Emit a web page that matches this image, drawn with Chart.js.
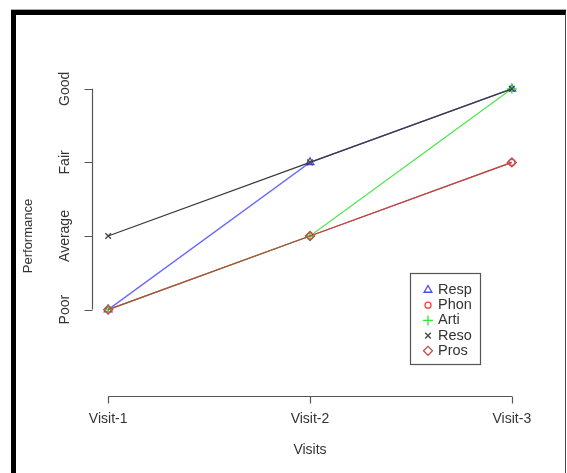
<!DOCTYPE html>
<html>
<head>
<meta charset="utf-8">
<script src="https://cdn.jsdelivr.net/npm/chart.js@4/dist/chart.umd.min.js"></script>
<style>
  html, body { margin: 0; padding: 0; background: #fff; }
  #wrap { position: relative; width: 567px; height: 473px; overflow: hidden; }
  #frame {
    position: absolute; left: 11px; top: 10px; width: 549px; height: 470px;
    border-left: 5px solid #000; border-top: 5px solid #000; border-right: 1px solid #444;
    box-shadow: 0 -1px 0 #aaa; pointer-events: none;
  }
  canvas { position: absolute; left: 0; top: 0; }
</style>
</head>
<body>
<div id="wrap">
  <canvas id="perfChart" width="567" height="473"></canvas>
  <div id="frame"></div>
</div>
<script>
// ---------- Data ----------
const visits = ["Visit-1", "Visit-2", "Visit-3"];
const levels = ["Poor", "Average", "Fair", "Good"];

const resp = [1, 3, 4];
const phon = [1, 2, 3];
const arti = [1, 2, 4];
const reso = [2, 3, 4];
const pros = [1, 2, 3];

const seriesNames = ["Resp", "Phon", "Arti", "Reso", "Pros"];
const seriesValues = [resp, phon, arti, reso, pros];

// ---------- Styles ----------
const colors = ["#4a4aff", "#ff3b3b", "#33e633", "#444444", "#c05050"];
const lineColors = ["#6a6aff", "#ff5a5a", "#4de84d", "#3a3a3a", "#b24848"];
const pointStyles = ["triangle", "circle", "cross", "crossRot", "rectRot"];
const pointRadii = [4.5, 3, 5, 4, 4.5];

const FONT = "Liberation Sans, Arial, sans-serif";

const datasets = seriesValues.map((vals, i) => ({
  label: seriesNames[i],
  data: vals.map((v, j) => ({ x: j + 1, y: v })),
  borderColor: lineColors[i],
  borderWidth: 1.3,
  pointBorderColor: colors[i],
  pointBackgroundColor: "rgba(0,0,0,0)",
  pointStyle: pointStyles[i],
  pointRadius: pointRadii[i],
  pointBorderWidth: 1.3,
  tension: 0,
  fill: false,
  order: seriesNames.length - i,
}));

// ---------- R-style axes + legend ----------
const rAxes = {
  id: "rAxes",
  afterDraw(chart) {
    const { ctx, chartArea, scales } = chart;
    const xs = scales.x, ys = scales.y;
    ctx.save();
    ctx.strokeStyle = "#555";
    ctx.lineWidth = 1.2;
    ctx.fillStyle = "#333";

    // x axis
    const ax = chartArea.bottom + 1.5;
    ctx.beginPath();
    ctx.moveTo(xs.getPixelForValue(1), ax);
    ctx.lineTo(xs.getPixelForValue(visits.length), ax);
    visits.forEach((_, i) => {
      const px = Math.round(xs.getPixelForValue(i + 1)) + 0.5;
      ctx.moveTo(px, ax);
      ctx.lineTo(px, ax + 7);
    });
    ctx.stroke();
    ctx.font = "14px " + FONT;
    ctx.textAlign = "center";
    ctx.textBaseline = "middle";
    visits.forEach((lab, i) => ctx.fillText(lab, xs.getPixelForValue(i + 1), 419));
    ctx.fillText("Visits", (xs.getPixelForValue(1) + xs.getPixelForValue(3)) / 2, 450);

    // y axis
    const ay = chartArea.left + 0.5;
    ctx.beginPath();
    ctx.moveTo(ay, ys.getPixelForValue(1));
    ctx.lineTo(ay, ys.getPixelForValue(levels.length));
    levels.forEach((_, i) => {
      const py = Math.round(ys.getPixelForValue(i + 1)) + 0.5;
      ctx.moveTo(ay, py);
      ctx.lineTo(ay - 8, py);
    });
    ctx.stroke();
    ctx.font = "14px " + FONT;
    levels.forEach((lab, i) => {
      ctx.save();
      ctx.translate(65, ys.getPixelForValue(i + 1));
      ctx.rotate(-Math.PI / 2);
      ctx.fillText(lab, 0, 0);
      ctx.restore();
    });
    ctx.save();
    ctx.font = "13px " + FONT;
    ctx.translate(28, (chartArea.top + chartArea.bottom) / 2);
    ctx.rotate(-Math.PI / 2);
    ctx.fillText("Performance", 0, 0);
    ctx.restore();

    // legend box
    const lx = 410.5, ly = 273.5, lw = 70, lh = 91;
    ctx.strokeStyle = "#555";
    ctx.lineWidth = 1.2;
    ctx.strokeRect(lx, ly, lw, lh);
    ctx.font = "14.5px " + FONT;
    ctx.textAlign = "left";
    chart.data.datasets.forEach((ds, i) => {
      const y = 290 + i * 15.2;
      ctx.fillStyle = "#333";
      ctx.fillText(ds.label, 438, y);
      ctx.strokeStyle = ds.pointBorderColor;
      ctx.fillStyle = "rgba(0,0,0,0)";
      ctx.lineWidth = 1.3;
      Chart.helpers.drawPoint(ctx, {
        pointStyle: ds.pointStyle,
        radius: ds.pointRadius,
        rotation: 0,
        borderWidth: 1.3,
      }, 428, y);
    });
    ctx.restore();
  },
};

// ---------- Chart ----------
new Chart(document.getElementById("perfChart"), {
  type: "line",
  data: { datasets },
  options: {
    responsive: false,
    animation: false,
    layout: { padding: { left: 92, right: 39, top: 77, bottom: 78 } },
    plugins: { legend: { display: false }, tooltip: { enabled: false } },
    scales: {
      x: { type: "linear", display: false, min: 0.92, max: 3.08 },
      y: { type: "linear", display: false, min: -0.16, max: 4.16 },
    },
  },
  plugins: [rAxes],
});
</script>
</body>
</html>
